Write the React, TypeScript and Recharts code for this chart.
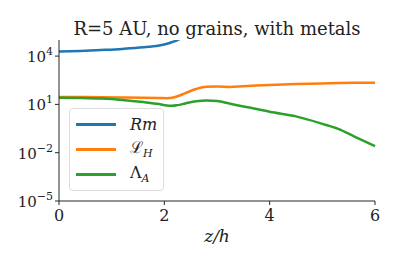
import { LineChart, Line, XAxis, YAxis } from "recharts";

const zs = [0, 0.4, 0.8, 1.2, 1.6, 1.9, 2.05, 2.15, 2.25, 2.4, 2.6, 2.8, 3.0, 3.25, 3.5, 3.75, 4.0, 4.5, 5.0, 5.3, 5.6, 6.0];
const rm = [1.9e4, 2.1e4, 2.4e4, 2.8e4, 3.5e4, 4.6e4, 5.8e4, 7.5e4, 1e5, 2e5, 5e5, 1.2e6, null, null, null, null, null, null, null, null, null, null];
const lH = [29, 28.5, 28, 27, 26, 25, 24.5, 26, 32, 50, 90, 125, 128, 122, 135, 148, 160, 182, 200, 210, 218, 225];
const lamA = [26, 25, 23, 19, 14, 10.5, 8.5, 8.2, 9, 11.5, 15.5, 17.5, 16, 11, 7.5, 5.2, 3.5, 1.8, 0.62, 0.3, 0.105, 0.026];
const xTicks = [0, 2, 4, 6];
const yTicks = [1e-5, 1e-2, 10, 1e4];

const data = zs.map((z, i) => ({ z, rm: rm[i], lH: lH[i], lamA: lamA[i] }));

const FONT = "DejaVu Serif, Liberation Serif, serif";
const FRAME = "#262626";

const YTick = ({ x, y, payload }: any) => {
  const e = Math.round(Math.log10(payload.value));
  return (
    <text x={x} y={y + 6} textAnchor="end" fill="#222" fontFamily={FONT} fontSize={15}>
      <tspan>10</tspan>
      <tspan dy={-7} fontSize={11}>{e < 0 ? "\u2212" + -e : e}</tspan>
    </text>
  );
};

const XTick = ({ x, y, payload }: any) => (
  <text x={x} y={y + 14} textAnchor="middle" fill="#222" fontFamily={FONT} fontSize={16}>{payload.value}</text>
);

const items = [
  { c: "#1f77b4", l: <i>Rm</i> },
  { c: "#ff7f0e", l: <span>&#x2112;<sub style={{ fontSize: 11, fontStyle: "italic" }}>H</sub></span> },
  { c: "#2ca02c", l: <span>&Lambda;<sub style={{ fontSize: 11, fontStyle: "italic" }}>A</sub></span> },
];

export default function App() {
  return (
    <div style={{ position: "absolute", left: 0, top: 0, width: 399, height: 266, background: "#fff" }}>
      <div style={{ position: "absolute", left: 59, width: 316, top: 18, textAlign: "center", fontFamily: FONT, fontSize: 18, color: "#222", whiteSpace: "nowrap" }}>
        R=5 AU, no grains, with metals
      </div>
      <LineChart width={399} height={266} data={data} margin={{ top: 40, right: 24, left: 0, bottom: 0 }}>
        <XAxis dataKey="z" type="number" domain={[0, 6]} ticks={xTicks} height={65} tick={<XTick />} tickSize={4} stroke={FRAME} />
        <XAxis xAxisId="top" dataKey="z" type="number" domain={[0, 6]} orientation="top" height={0} tick={false} tickLine={false} stroke={FRAME} />
        <YAxis type="number" scale="log" domain={[1e-5, 1e5]} ticks={yTicks} allowDataOverflow width={59} tick={<YTick />} tickSize={4} tickMargin={2} stroke={FRAME} />
        <YAxis yAxisId="right" orientation="right" type="number" scale="log" domain={[1e-5, 1e5]} allowDataOverflow width={0} tick={false} tickLine={false} stroke={FRAME} />
        <Line dataKey="rm" stroke="#1f77b4" strokeWidth={2.5} dot={false} isAnimationActive={false} type="monotone" />
        <Line dataKey="lH" stroke="#ff7f0e" strokeWidth={2.5} dot={false} isAnimationActive={false} type="monotone" />
        <Line dataKey="lamA" stroke="#2ca02c" strokeWidth={2.5} dot={false} isAnimationActive={false} type="monotone" />
      </LineChart>
      <div style={{ position: "absolute", left: 69, top: 108, width: 95, height: 83, border: "1px solid #ddd", borderRadius: 4, background: "rgba(255,255,255,0.8)", fontFamily: FONT, fontSize: 16, color: "#222", paddingTop: 3, boxSizing: "border-box" }}>
        {items.map((it, i) => (
          <div key={i} style={{ display: "flex", alignItems: "center", height: 25 }}>
            <div style={{ width: 40, height: 2.5, background: it.c, marginLeft: 6, marginRight: 14 }} />
            <div style={{ lineHeight: 1 }}>{it.l}</div>
          </div>
        ))}
      </div>
      <div style={{ position: "absolute", left: 59, width: 316, top: 226, textAlign: "center", fontFamily: FONT, fontSize: 17, fontStyle: "italic", color: "#222" }}>
        z/h
      </div>
    </div>
  );
}
